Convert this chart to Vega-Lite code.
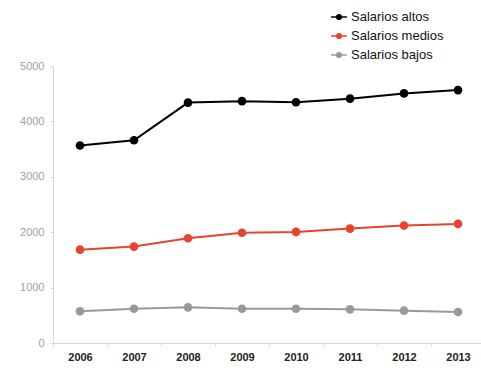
{
  "$schema": "https://vega.github.io/schema/vega-lite/v6.json",
  "width": 432,
  "height": 277,
  "autosize": {"type": "none"},
  "padding": {"left": 53, "top": 66, "right": 0, "bottom": 25},
  "background": "white",
  "config": {
    "view": {"stroke": null},
    "font": "Liberation Sans"
  },
  "data": {
    "values": [
      {"year": "2006", "serie": "Salarios altos", "valor": 3565},
      {"year": "2007", "serie": "Salarios altos", "valor": 3660},
      {"year": "2008", "serie": "Salarios altos", "valor": 4340},
      {"year": "2009", "serie": "Salarios altos", "valor": 4365},
      {"year": "2010", "serie": "Salarios altos", "valor": 4345},
      {"year": "2011", "serie": "Salarios altos", "valor": 4410},
      {"year": "2012", "serie": "Salarios altos", "valor": 4505},
      {"year": "2013", "serie": "Salarios altos", "valor": 4565},
      {"year": "2006", "serie": "Salarios medios", "valor": 1685},
      {"year": "2007", "serie": "Salarios medios", "valor": 1740},
      {"year": "2008", "serie": "Salarios medios", "valor": 1890},
      {"year": "2009", "serie": "Salarios medios", "valor": 1990},
      {"year": "2010", "serie": "Salarios medios", "valor": 2005},
      {"year": "2011", "serie": "Salarios medios", "valor": 2065},
      {"year": "2012", "serie": "Salarios medios", "valor": 2120},
      {"year": "2013", "serie": "Salarios medios", "valor": 2150},
      {"year": "2006", "serie": "Salarios bajos", "valor": 572},
      {"year": "2007", "serie": "Salarios bajos", "valor": 619},
      {"year": "2008", "serie": "Salarios bajos", "valor": 644},
      {"year": "2009", "serie": "Salarios bajos", "valor": 619},
      {"year": "2010", "serie": "Salarios bajos", "valor": 619},
      {"year": "2011", "serie": "Salarios bajos", "valor": 608},
      {"year": "2012", "serie": "Salarios bajos", "valor": 583},
      {"year": "2013", "serie": "Salarios bajos", "valor": 560}
    ]
  },
  "encoding": {
    "x": {
      "field": "year",
      "type": "ordinal",
      "scale": {"type": "band", "paddingInner": 0, "paddingOuter": 0},
      "axis": {
        "title": null,
        "labelAngle": 0,
        "labelFont": "Liberation Sans",
        "labelFontWeight": "bold",
        "labelFontSize": 11,
        "labelColor": "#222",
        "labelPadding": 5,
        "domainColor": "#d8d8d8",
        "tickColor": "#d8d8d8",
        "tickBand": "extent",
        "tickSize": 3,
        "grid": false
      }
    },
    "y": {
      "field": "valor",
      "type": "quantitative",
      "scale": {"domain": [0, 5000], "nice": false},
      "axis": {
        "title": null,
        "values": [0, 1000, 2000, 3000, 4000, 5000],
        "format": "d",
        "labelFont": "Liberation Sans",
        "labelFontSize": 11,
        "labelColor": "#a0a0a0",
        "labelPadding": 6,
        "domainColor": "#d8d8d8",
        "tickColor": "#d8d8d8",
        "tickSize": 3,
        "grid": false
      }
    },
    "color": {
      "field": "serie",
      "type": "nominal",
      "scale": {
        "domain": ["Salarios altos", "Salarios medios", "Salarios bajos"],
        "range": ["#000000", "#e8432d", "#999999"]
      },
      "legend": {
        "title": null,
        "orient": "none",
        "legendX": 277,
        "legendY": -58,
        "labelFont": "Liberation Sans",
        "labelFontSize": 13,
        "labelColor": "#111",
        "symbolType": "M-1,0H1M-0.3,0A0.3,0.3 0 1,0 0.3,0A0.3,0.3 0 1,0 -0.3,0",
        "symbolSize": 250,
        "symbolStrokeWidth": 1.5,
        "rowPadding": 3,
        "labelOffset": 3
      }
    }
  },
  "layer": [
    {"mark": {"type": "line", "strokeWidth": 2}},
    {"mark": {"type": "point", "filled": true, "size": 75, "opacity": 1}}
  ]
}
